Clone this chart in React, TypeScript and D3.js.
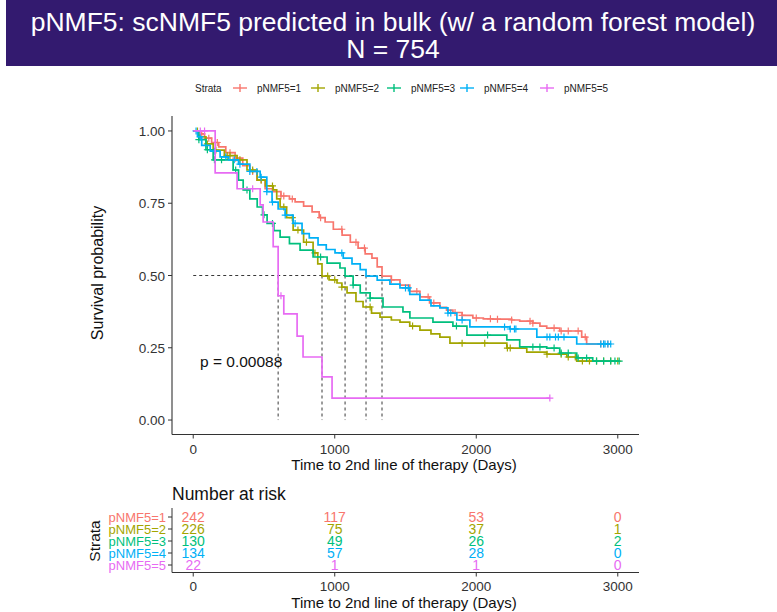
import React, { useEffect, useRef } from "react";
import * as d3 from "d3";

// strata names and colours (ggplot hue palette)
const strata = ["pNMF5=1", "pNMF5=2", "pNMF5=3", "pNMF5=4", "pNMF5=5"];
const colors = ["#F8766D", "#A3A500", "#00BF7D", "#00B0F6", "#E76BF3"];

// Kaplan-Meier steps: [time (days), survival]
const surv1 = [
  [0, 1], [40, 0.99], [80, 0.975], [130, 0.96], [180, 0.945], [230, 0.925], [296, 0.906],
  [350, 0.88], [400, 0.86], [450, 0.83], [508, 0.8], [560, 0.79], [620, 0.775], [680, 0.765],
  [720, 0.755], [780, 0.74], [840, 0.72], [890, 0.7], [932, 0.685], [990, 0.66], [1052, 0.64],
  [1110, 0.615], [1165, 0.595], [1215, 0.575], [1263, 0.56], [1300, 0.53], [1334, 0.498],
  [1400, 0.485], [1461, 0.467], [1530, 0.445], [1602, 0.426], [1670, 0.405], [1743, 0.39],
  [1790, 0.38], [1835, 0.372], [1900, 0.362], [1976, 0.353], [2050, 0.35], [2117, 0.349],
  [2250, 0.346], [2307, 0.342], [2400, 0.335], [2450, 0.325], [2498, 0.318], [2590, 0.308],
  [2745, 0.287], [2780, 0.263], [2950, 0.263],
];
const surv2 = [
  [0, 1], [40, 0.98], [90, 0.955], [141, 0.934], [220, 0.915], [310, 0.9], [380, 0.865],
  [452, 0.83], [510, 0.81], [565, 0.796], [590, 0.765], [614, 0.737], [660, 0.7], [706, 0.657],
  [780, 0.615], [847, 0.578], [880, 0.54], [910, 0.498], [960, 0.485], [1016, 0.474],
  [1050, 0.46], [1087, 0.44], [1150, 0.41], [1200, 0.391], [1260, 0.37], [1320, 0.356],
  [1400, 0.346], [1461, 0.339], [1530, 0.325], [1602, 0.311], [1680, 0.298], [1743, 0.287],
  [1814, 0.266], [2216, 0.249], [2357, 0.235], [2498, 0.228], [2640, 0.218], [2710, 0.204],
  [3013, 0.204],
];
const surv3 = [
  [0, 1], [40, 0.97], [90, 0.935], [141, 0.9], [282, 0.865], [320, 0.83], [353, 0.796],
  [400, 0.765], [452, 0.737], [490, 0.71], [522, 0.68], [570, 0.655], [614, 0.633], [680, 0.61],
  [755, 0.588], [847, 0.564], [946, 0.543], [1037, 0.526], [1073, 0.498], [1130, 0.467],
  [1180, 0.44], [1250, 0.422], [1341, 0.391], [1482, 0.374], [1531, 0.353], [1694, 0.339],
  [1835, 0.325], [1934, 0.294], [2216, 0.277], [2307, 0.253], [2498, 0.249], [2590, 0.232],
  [2710, 0.215], [2823, 0.204], [3013, 0.204],
];
const surv4 = [
  [0, 1], [30, 0.98], [60, 0.95], [120, 0.93], [190, 0.91], [250, 0.9], [320, 0.885],
  [400, 0.86], [473, 0.84], [520, 0.79], [557, 0.754], [600, 0.73], [650, 0.709], [706, 0.68],
  [769, 0.645], [820, 0.63], [882, 0.606], [940, 0.59], [1002, 0.578], [1060, 0.56],
  [1122, 0.54], [1180, 0.52], [1221, 0.498], [1300, 0.484], [1390, 0.47], [1461, 0.457],
  [1530, 0.435], [1602, 0.415], [1680, 0.395], [1743, 0.388], [1800, 0.37], [1863, 0.346],
  [1955, 0.322], [2237, 0.315], [2428, 0.287], [2710, 0.263], [2950, 0.263],
];
const surv5 = [
  [0, 1], [155, 0.855], [310, 0.8], [473, 0.744], [494, 0.685], [565, 0.6], [600, 0.43],
  [640, 0.367], [734, 0.29], [776, 0.218], [910, 0.149], [981, 0.076], [2520, 0.076],
];

// censoring times
const cens1 = [60, 110, 170, 260, 300, 420, 480, 620, 640, 700, 900, 1050, 1150, 1210, 1400, 1580,
  1660, 1700, 1850, 1900, 2000, 2100, 2150, 2250, 2380, 2400, 2550, 2600, 2650, 2720, 2770, 2880,
  2900, 2930];
const cens2 = [30, 100, 160, 240, 260, 330, 420, 480, 560, 640, 700, 740, 800, 860, 950, 1000, 1050,
  1250, 1550, 1900, 2060, 2220, 2240, 2500, 2600, 2650, 2700, 2750, 2800, 2850, 2900, 2950, 3000];
const cens3 = [40, 100, 150, 200, 300, 380, 500, 560, 900, 1130, 1250, 1860, 2080, 2400, 2450, 2550,
  2600, 2650, 2720, 2780, 2850, 2900, 2950, 2980, 3010];
const cens4 = [20, 50, 150, 230, 290, 330, 400, 450, 480, 520, 560, 650, 720, 1050, 1500, 1520, 1800,
  1820, 1900, 2200, 2240, 2270, 2280, 2500, 2520, 2560, 2580, 2620, 2880, 2900, 2910, 2930, 2950];
const cens5 = [50, 80, 420, 620, 2520];

const medians = [1334, 910, 1073, 1221, 600];

// number at risk table
const riskTimes = [0, 1000, 2000, 3000];
const risk1 = [242, 117, 53, 0];
const risk2 = [226, 75, 37, 1];
const risk3 = [130, 49, 26, 2];
const risk4 = [134, 57, 28, 0];
const risk5 = [22, 1, 1, 0];

const xTicks = [0, 1000, 2000, 3000];
const yTicks = [0, 0.25, 0.5, 0.75, 1];

const FONT = "'Liberation Sans', Arial, sans-serif";

export default function App() {
  const svgRef = useRef(null);

  useEffect(() => {
    const svg = d3.select(svgRef.current);
    svg.selectAll("*").remove();

    const curves = [surv1, surv2, surv3, surv4, surv5];
    const censors = [cens1, cens2, cens3, cens4, cens5];
    const risks = [risk1, risk2, risk3, risk4, risk5];

    const x = d3.scaleLinear().domain([-150, 3150]).range([172, 639]);
    const y = d3.scaleLinear().domain([-0.05, 1.05]).range([434.5, 116.5]);

    // title banner
    svg.append("rect").attr("x", 6).attr("y", 0).attr("width", 771).attr("height", 66).attr("fill", "#331a6f");
    svg.append("text").attr("x", 393).attr("y", 31).attr("text-anchor", "middle")
      .attr("font-size", 26.5).attr("fill", "white").text("pNMF5: scNMF5 predicted in bulk (w/ a random forest model)");
    svg.append("text").attr("x", 393).attr("y", 58).attr("text-anchor", "middle")
      .attr("font-size", 26.5).attr("fill", "white").text("N = 754");

    // legend
    const leg = svg.append("g").attr("font-size", 10).attr("fill", "#222");
    leg.append("text").attr("x", 195).attr("y", 91.5).text("Strata");
    const legX = [233, 311, 387, 460, 540];
    strata.forEach((s, i) => {
      const cx = legX[i] + 7;
      leg.append("line").attr("x1", cx - 7).attr("x2", cx + 7).attr("y1", 88).attr("y2", 88)
        .attr("stroke", colors[i]).attr("stroke-width", 1.4);
      leg.append("line").attr("x1", cx).attr("x2", cx).attr("y1", 84).attr("y2", 92)
        .attr("stroke", colors[i]).attr("stroke-width", 1.4);
      leg.append("text").attr("x", legX[i] + 24).attr("y", 91.5).text(s);
    });

    // axes of main plot
    const axisCol = "#333";
    svg.append("line").attr("x1", 172).attr("x2", 172).attr("y1", 116).attr("y2", 434.5)
      .attr("stroke", axisCol).attr("stroke-width", 1.1);
    svg.append("line").attr("x1", 172).attr("x2", 639).attr("y1", 434.5).attr("y2", 434.5)
      .attr("stroke", axisCol).attr("stroke-width", 1.1);
    yTicks.forEach((t) => {
      svg.append("line").attr("x1", 168).attr("x2", 172).attr("y1", y(t)).attr("y2", y(t)).attr("stroke", axisCol);
      svg.append("text").attr("x", 165).attr("y", y(t) + 5).attr("text-anchor", "end")
        .attr("font-size", 13.5).attr("fill", "#333").text(d3.format(".2f")(t));
    });
    xTicks.forEach((t) => {
      svg.append("line").attr("x1", x(t)).attr("x2", x(t)).attr("y1", 434.5).attr("y2", 438.5).attr("stroke", axisCol);
      svg.append("text").attr("x", x(t)).attr("y", 454).attr("text-anchor", "middle")
        .attr("font-size", 13.5).attr("fill", "#333").text(t);
    });
    svg.append("text").attr("x", 404).attr("y", 470).attr("text-anchor", "middle")
      .attr("font-size", 15).attr("fill", "#111").text("Time to 2nd line of therapy (Days)");
    svg.append("text").attr("transform", `translate(103, 273) rotate(-90)`).attr("text-anchor", "middle")
      .attr("font-size", 16).attr("fill", "#111").text("Survival probability");

    // median lines
    const dash = "3,3";
    svg.append("line").attr("x1", x(0)).attr("x2", x(d3.max(medians))).attr("y1", y(0.5)).attr("y2", y(0.5))
      .attr("stroke", "#222").attr("stroke-dasharray", dash).attr("stroke-width", 0.9);
    medians.forEach((m) => {
      svg.append("line").attr("x1", x(m)).attr("x2", x(m)).attr("y1", y(0.5)).attr("y2", y(0))
        .attr("stroke", "#222").attr("stroke-dasharray", dash).attr("stroke-width", 0.9);
    });

    // curves
    const line = d3.line().x((d) => x(d[0])).y((d) => y(d[1])).curve(d3.curveStepAfter);
    const survAt = (c, t) => {
      let s = 1;
      c.forEach((p) => { if (p[0] <= t) s = p[1]; });
      return s;
    };
    curves.forEach((c, i) => {
      svg.append("path").attr("d", line(c)).attr("fill", "none")
        .attr("stroke", colors[i]).attr("stroke-width", 1.7);
      censors[i].forEach((t) => {
        const cx = x(t), cy = y(survAt(c, t));
        svg.append("path").attr("d", `M${cx - 3.5},${cy}H${cx + 3.5}M${cx},${cy - 3.5}V${cy + 3.5}`)
          .attr("stroke", colors[i]).attr("stroke-width", 1.2);
      });
    });

    svg.append("text").attr("x", 200).attr("y", 367).attr("font-size", 15.5).attr("fill", "#111").text("p = 0.00088");

    // number at risk table
    svg.append("text").attr("x", 172).attr("y", 500).attr("font-size", 17.5).attr("fill", "#111").text("Number at risk");
    const ry = d3.scalePoint().domain(strata).range([517, 565]);
    svg.append("line").attr("x1", 172).attr("x2", 172).attr("y1", 508).attr("y2", 572.5).attr("stroke", axisCol);
    svg.append("line").attr("x1", 172).attr("x2", 639).attr("y1", 572.5).attr("y2", 572.5).attr("stroke", axisCol);
    strata.forEach((s, i) => {
      svg.append("line").attr("x1", 168).attr("x2", 172).attr("y1", ry(s)).attr("y2", ry(s)).attr("stroke", axisCol);
      svg.append("text").attr("x", 166).attr("y", ry(s) + 4.5).attr("text-anchor", "end")
        .attr("font-size", 13).attr("fill", colors[i]).text(s);
      riskTimes.forEach((t, j) => {
        svg.append("text").attr("x", x(t)).attr("y", ry(s) + 5).attr("text-anchor", "middle")
          .attr("font-size", 14).attr("fill", colors[i]).text(risks[i][j]);
      });
    });
    xTicks.forEach((t) => {
      svg.append("line").attr("x1", x(t)).attr("x2", x(t)).attr("y1", 572.5).attr("y2", 576.5).attr("stroke", axisCol);
      svg.append("text").attr("x", x(t)).attr("y", 591).attr("text-anchor", "middle")
        .attr("font-size", 13.5).attr("fill", "#333").text(t);
    });
    svg.append("text").attr("x", 404).attr("y", 608).attr("text-anchor", "middle")
      .attr("font-size", 15).attr("fill", "#111").text("Time to 2nd line of therapy (Days)");
    svg.append("text").attr("transform", `translate(100, 541) rotate(-90)`).attr("text-anchor", "middle")
      .attr("font-size", 15.5).attr("fill", "#111").text("Strata");
  }, []);

  return (
    <svg ref={svgRef} width={777} height={612}
      style={{ position: "absolute", left: 0, top: 0, background: "white", fontFamily: FONT }} />
  );
}
